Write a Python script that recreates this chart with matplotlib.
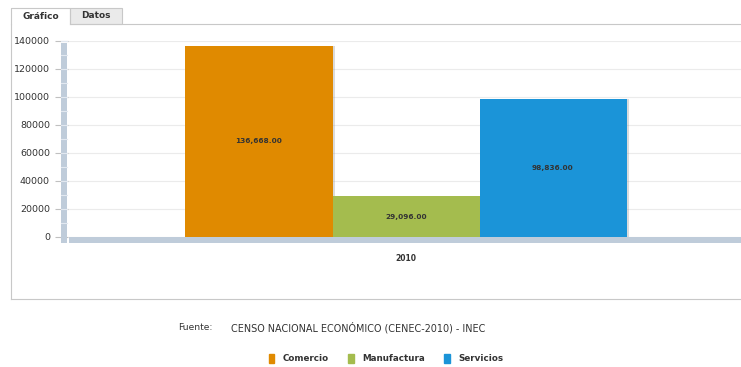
import matplotlib
matplotlib.use("Agg")
import matplotlib.pyplot as plt
import matplotlib.transforms as mtransforms
from matplotlib.patches import Rectangle
from matplotlib.lines import Line2D

W, H = 741, 367
categories = ["2010"]
series_names = ["Comercio", "Manufactura", "Servicios"]
series_values = [136668.00, 29096.00, 98836.00]
series_colors = ["#E08A00", "#A4BC4E", "#1B94D8"]
yticks = [0, 20000, 40000, 60000, 80000, 100000, 120000, 140000]
tabs = ["Gráfico", "Datos"]
source_label = "Fuente:"
source_text = "CENSO NACIONAL ECONÓMICO (CENEC-2010) - INEC"

plt.rcParams['font.family'] = ['DejaVu Sans']
fig = plt.figure(figsize=(W / 100, H / 100), dpi=100)

def fx(px):
    return px / W

def fy(py):
    return 1 - py / H

def frect(x0, y0, x1, y1, **kw):
    fig.patches.append(Rectangle((fx(x0), fy(y1)), fx(x1) - fx(x0), fy(y0) - fy(y1),
                                 transform=fig.transFigure, **kw))

def fline(xs, ys, **kw):
    fig.add_artist(Line2D([fx(x) for x in xs], [fy(y) for y in ys],
                          transform=fig.transFigure, **kw))

# panel borders and tabs
fline([11, 11], [24, 299], color="#C8C8C8", lw=0.8)
fline([11, 741], [299, 299], color="#C8C8C8", lw=0.8)
fline([70, 741], [24, 24], color="#C8C8C8", lw=0.8)
frect(70, 8, 122, 24, facecolor="#EAEAEA", edgecolor="#C8C8C8", lw=0.8)
fline([11, 11, 70, 70], [24, 8, 8, 24], color="#C8C8C8", lw=0.8)
fig.text(fx(40.5), fy(16.5), tabs[0], ha="center", va="center", fontsize=6.5,
         fontweight="bold", color="#333333")
fig.text(fx(96), fy(16), tabs[1], ha="center", va="center", fontsize=6.5,
         fontweight="bold", color="#333333")

# plot area
ax = fig.add_axes([fx(68), fy(237), fx(744) - fx(68), fy(41) - fy(237)])
ax.set_facecolor("none")
ax.set_xlim(-0.5, 0.5)
ax.set_ylim(0, 140000)
for s in ax.spines.values():
    s.set_visible(False)
ax.set_yticks(yticks)
ax.set_yticklabels([str(v) for v in yticks])
ax.tick_params(axis="y", length=13 * 0.72, width=0.8, color="#C0C0C0", labelsize=6.8,
               labelcolor="#333333", pad=5 * 0.72)
ax.set_xticks([0])
ax.set_xticklabels(categories)
ax.tick_params(axis="x", length=0, labelsize=5.5, labelcolor="#333333", pad=17 * 0.72)
for lbl in ax.get_xticklabels():
    lbl.set_fontweight("bold")
ax.grid(axis="y", color="#EBEBEB", lw=0.8)
ax.set_axisbelow(True)

# 3D wall and floor (drawn above axes ticks)
frect(61, 43, 67, 243, facecolor="#BFCCDA", edgecolor="none", zorder=1)
frect(69, 237.5, 741, 243, facecolor="#BFCCDA", edgecolor="none", zorder=1)
blend = mtransforms.blended_transform_factory(fig.transFigure, ax.transData)
for v in range(10000, 140001, 10000):
    fig.add_artist(Line2D([fx(61), fx(67)], [v, v], transform=blend,
                          color="#E2E8F0", lw=0.8, zorder=2))

n = len(series_names)
bw = 147 / 676
for i, (name, val, col) in enumerate(zip(series_names, series_values, series_colors)):
    x = (i - (n - 1) / 2) * bw
    ax.bar(x + 0.003, val, width=bw, color="#999999", alpha=0.35, zorder=2)
    ax.bar(x, val, width=bw, color=col, label=name, zorder=3)
    ax.text(x, val / 2, f"{val:,.2f}", ha="center", va="center", fontsize=5.3,
            fontweight="bold", color="#333333", zorder=4)

# footer
fig.text(fx(178), fy(328), source_label, ha="left", va="center", fontsize=6.6, color="#333333")
fig.text(fx(231), fy(328), source_text, ha="left", va="center", fontsize=6.9, color="#333333")

handles = [Rectangle((0, 0), 1, 1, color=c) for c in series_colors]
leg = fig.legend(handles, series_names, loc="center", bbox_to_anchor=(fx(386), fy(358.5)),
                 ncol=3, frameon=False, fontsize=6.3, handlelength=0.65, handleheight=1.35,
                 handletextpad=0.95, columnspacing=2.2)
for t in leg.get_texts():
    t.set_fontweight("bold")
    t.set_color("#333333")

fig.savefig("out.png", dpi=100)
